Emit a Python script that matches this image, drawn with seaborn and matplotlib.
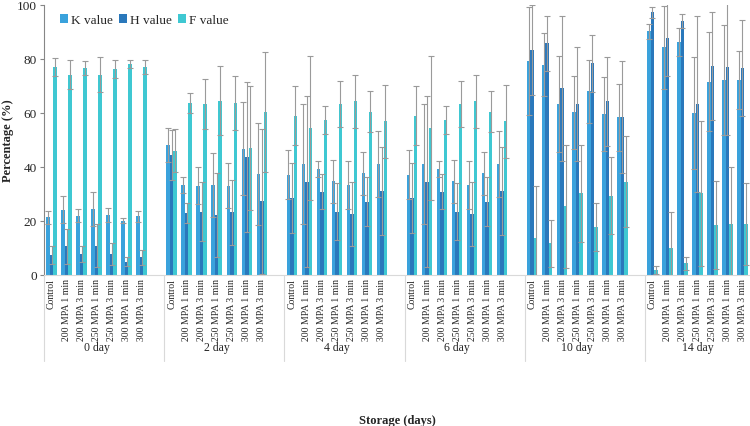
import numpy as np
import pandas as pd
import matplotlib
matplotlib.use("Agg")
import matplotlib.pyplot as plt
import matplotlib.transforms as mtransforms
import seaborn as sns

# ==================== 数据 ====================
DAYS = ["0 day", "2 day", "4 day", "6 day", "10 day", "14 day"]
TREATMENTS = ["Control", "200 MPA 1 min", "200 MPA 3 min", "250 MPA 1 min",
              "250 MPA 3 min", "300 MPA 1 min", "300 MPA 3 min"]
SERIES = ["K value", "H value", "F value"]

k_mean = [21.4, 24.1, 22.0, 24.4, 22.2, 20.1, 21.7,
          48.1, 33.3, 33.1, 33.3, 33.1, 46.7, 37.4,
          37.2, 41.1, 39.3, 34.7, 33.5, 37.7, 41.1,
          37.2, 41.1, 39.3, 34.7, 33.5, 37.7, 41.1,
          79.4, 77.9, 63.3, 60.2, 68.0, 59.6, 58.4,
          90.2, 84.3, 86.2, 60.0, 71.6, 72.2, 72.3]
k_sd = [2.4, 5.0, 2.3, 6.4, 2.7, 1.0, 1.9,
        6.3, 3.1, 6.8, 11.8, 8.4, 17.2, 19.0,
        9.1, 22.2, 3.0, 7.9, 8.9, 8.0, 12.3,
        9.1, 22.2, 3.0, 7.9, 8.9, 8.0, 12.3,
        20.0, 11.6, 17.7, 13.6, 11.6, 13.6, 12.3,
        2.8, 15.5, 5.2, 20.6, 18.3, 20.4, 10.8]

h_mean = [7.4, 10.6, 7.8, 10.9, 7.8, 4.9, 6.5,
          44.4, 23.0, 23.5, 22.2, 23.2, 43.6, 27.3,
          28.5, 34.6, 30.9, 23.5, 22.6, 27.2, 31.0,
          28.5, 34.6, 30.9, 23.5, 22.6, 27.2, 31.0,
          83.3, 85.8, 69.1, 63.2, 78.4, 64.3, 58.4,
          97.3, 87.8, 94.1, 63.2, 77.3, 76.9, 76.7]
h_sd = [3.5, 6.4, 3.0, 8.0, 4.0, 1.6, 2.8,
        9.3, 3.6, 11.0, 15.4, 12.0, 27.8, 26.8,
        13.0, 31.6, 6.5, 10.5, 12.0, 9.0, 16.3,
        13.0, 31.6, 6.5, 10.5, 12.0, 9.0, 16.3,
        16.7, 10.2, 26.9, 21.1, 10.5, 16.6, 20.7,
        2.1, 14.0, 2.6, 32.6, 20.0, 25.0, 17.9]

f_mean = [76.9, 74.2, 76.7, 74.2, 76.3, 78.1, 77.0,
          46.0, 63.7, 63.3, 64.6, 63.7, 46.9, 60.5,
          59.0, 54.4, 57.4, 63.3, 64.3, 60.5, 56.9,
          59.0, 54.4, 57.4, 63.3, 64.3, 60.5, 56.9,
          13.7, 11.7, 25.4, 30.2, 17.7, 29.4, 34.6,
          1.9, 9.9, 4.4, 30.2, 18.5, 18.9, 18.9]
f_sd = [3.3, 5.4, 2.5, 6.4, 3.3, 1.5, 2.5,
        8.0, 3.6, 9.3, 12.7, 10.0, 23.0, 22.2,
        10.9, 26.6, 5.3, 8.6, 9.9, 7.5, 13.5,
        10.9, 26.6, 5.3, 8.6, 9.9, 7.5, 13.5,
        19.4, 8.8, 22.9, 17.9, 8.8, 14.2, 17.0,
        1.6, 13.3, 2.4, 27.0, 16.4, 21.2, 15.1]

COLORS = ["#3aa2dc", "#2a78bb", "#3fc8d2"]
SERIF = "Liberation Serif"

# ==================== 整理数据 ====================
rows = []
for i, (mean, sd) in enumerate([(k_mean, k_sd), (h_mean, h_sd), (f_mean, f_sd)]):
    for d, day in enumerate(DAYS):
        for t, trt in enumerate(TREATMENTS):
            idx = d * len(TREATMENTS) + t
            rows.append({"slot": f"{day}|{trt}", "series": SERIES[i],
                         "value": mean[idx], "sd": sd[idx]})
df = pd.DataFrame(rows)

# 每个储藏天数后留一个空位
order, tick_labels = [], []
for d, day in enumerate(DAYS):
    for trt in TREATMENTS:
        order.append(f"{day}|{trt}")
        tick_labels.append(trt)
    if d < len(DAYS) - 1:
        order.append(f"blank{d}")
        tick_labels.append("")

# ==================== 绘图 ====================
sns.set_theme(style="white")
plt.rcParams["font.family"] = [SERIF, "DejaVu Serif"]

fig = plt.figure(figsize=(7.5, 4.27), dpi=100)
ax = fig.add_axes([44 / 750, 1 - 276 / 427, 706 / 750, 270 / 427])

sns.barplot(data=df, x="slot", y="value", hue="series", order=order,
            hue_order=SERIES, palette=COLORS, saturation=1, width=0.7,
            errorbar=None, linewidth=0, edgecolor="none", ax=ax)

# 误差线
sd_lookup = df.set_index(["slot", "series"])["sd"]
for container, name in zip(ax.containers, SERIES):
    for bar in container:
        xc = bar.get_x() + bar.get_width() / 2
        slot = order[int(round(xc))]
        h = bar.get_height()
        if np.isnan(h):
            continue
        ax.errorbar(xc, h, yerr=sd_lookup[(slot, name)], fmt="none",
                    ecolor="#9a9a9a", elinewidth=0.8, capsize=2.2,
                    capthick=0.8, zorder=3)

ax.set_ylim(0, 100)
ax.set_xlim(-0.5, len(order) - 0.5)
ax.set_yticks(range(0, 101, 20))
ax.tick_params(axis="y", labelsize=9.5, length=3, width=0.8, color="#868686",
               left=True, pad=2)
ax.set_xticks(range(len(order)))
ax.set_xticklabels(tick_labels, rotation=90, fontsize=7)
ax.tick_params(axis="x", length=0, pad=2)

for side in ["top", "right"]:
    ax.spines[side].set_visible(False)
ax.spines["left"].set_color("#868686")
ax.spines["bottom"].set_color("#d9d9d9")
ax.spines["left"].set_linewidth(0.8)
ax.spines["bottom"].set_linewidth(0.8)

# 分组标签与分隔线
trans = mtransforms.blended_transform_factory(ax.transData, ax.transAxes)
for d, day in enumerate(DAYS):
    ax.text(d * 8 + 3, -0.267, day, transform=trans, ha="center", va="center",
            fontsize=8.5)
    ax.plot([d * 8 - 0.5, d * 8 - 0.5], [0, -0.32], transform=trans,
            color="#d9d9d9", lw=0.8, clip_on=False)

ax.set_ylabel("Percentage (%)", fontsize=9, fontweight="bold")
ax.yaxis.set_label_coords(-0.042, 0.5)
ax.set_xlabel("Storage (days)", fontsize=9, fontweight="bold")
ax.xaxis.set_label_coords(0.5, -0.515)

ax.legend(loc="upper left", bbox_to_anchor=(0.01, 1.0), ncol=3, frameon=False,
          handlelength=0.6, handleheight=0.6, handletextpad=0.2,
          columnspacing=0.5, fontsize=9.5, borderaxespad=0.3)

fig.savefig("out.png", dpi=100)
plt.close(fig)
